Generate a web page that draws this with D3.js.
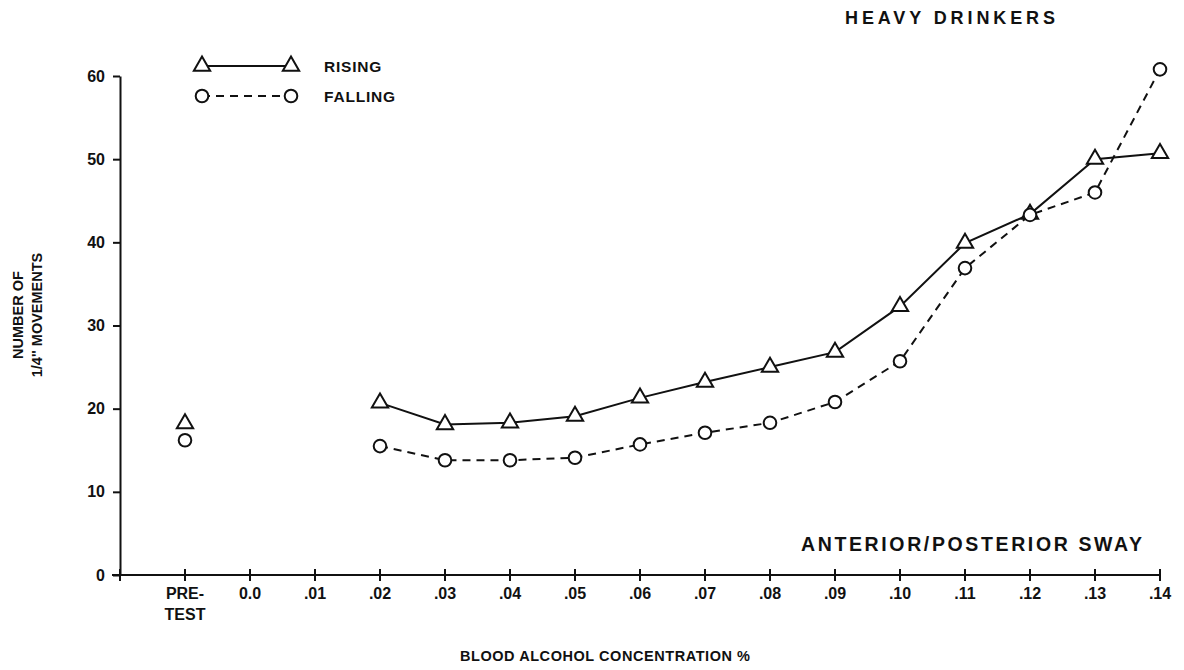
<!DOCTYPE html>
<html>
<head>
<meta charset="utf-8">
<script src="https://cdn.jsdelivr.net/npm/d3@7"></script>
<style>
  body { margin: 0; background: #fff; }
  svg { display: block; }
  text { font-family: "Liberation Sans", Arial, Helvetica, sans-serif; font-weight: bold; fill: #111; }
</style>
</head>
<body>
<svg id="chart" width="1184" height="670"></svg>
<script>
// categories along the x axis (PRE-TEST then blood alcohol levels)
var categories = ['PRE-TEST', '0.0', '.01', '.02', '.03', '.04', '.05', '.06', '.07', '.08', '.09', '.10', '.11', '.12', '.13', '.14'];
var rising  = [18.2, null, null, 20.7, 18.1, 18.3, 19.1, 21.3, 23.2, 25.0, 26.8, 32.3, 39.9, 43.4, 50.0, 50.7];
var falling = [16.2, null, null, 15.5, 13.8, 13.8, 14.1, 15.7, 17.1, 18.3, 20.8, 25.7, 36.9, 43.3, 46.0, 60.8];
var yTicks = [0, 10, 20, 30, 40, 50, 60];

var svg = d3.select('#chart');
var ink = '#111';

var x = d3.scalePoint().domain(categories).range([120, 1160]).padding(0.5).align(1);
var y = d3.scaleLinear().domain([0, 60]).range([575, 76]);

/** y axis */
var yAxis = svg.append('g').attr('transform', 'translate(120,0)')
	.call(d3.axisLeft(y).tickValues(yTicks).tickSize(7).tickSizeOuter(0).tickPadding(8));
yAxis.select('.domain').attr('stroke', ink).attr('stroke-width', 2);
yAxis.selectAll('.tick line').attr('stroke', ink).attr('stroke-width', 2);
yAxis.selectAll('.tick text').attr('font-size', 16).attr('font-family', null).attr('fill', ink);

/** x axis */
var xAxisG = svg.append('g').attr('transform', 'translate(0,575)');
xAxisG.append('line').attr('x1', 112).attr('x2', 1160).attr('stroke', ink).attr('stroke-width', 2);
var xTickPos = [120].concat(categories.map(function(c) { return x(c); }));
xAxisG.selectAll('line.tick').data(xTickPos).enter().append('line')
	.attr('class', 'tick')
	.attr('x1', function(d) { return d; }).attr('x2', function(d) { return d; })
	.attr('y1', -6).attr('y2', 6)
	.attr('stroke', ink).attr('stroke-width', 2);
var xLabels = xAxisG.selectAll('text.lbl').data(categories).enter().append('text')
	.attr('class', 'lbl')
	.attr('x', function(d) { return x(d); })
	.attr('y', 24)
	.attr('text-anchor', 'middle')
	.attr('font-size', 16);
xLabels.each(function(d) {
	var t = d3.select(this);
	if (d === 'PRE-TEST') {
		t.append('tspan').attr('x', x(d)).text('PRE-');
		t.append('tspan').attr('x', x(d)).attr('dy', 21).text('TEST');
	} else {
		t.text(d);
	}
});

/** axis titles */
svg.append('text').attr('x', 605).attr('y', 661).attr('text-anchor', 'middle')
	.attr('font-size', 14.5).attr('textLength', 290).attr('lengthAdjust', 'spacing')
	.text('BLOOD ALCOHOL CONCENTRATION %');
var yTitle = svg.append('text').attr('transform', 'translate(23,315) rotate(-90)')
	.attr('text-anchor', 'middle').attr('font-size', 14.5);
yTitle.append('tspan').attr('x', 0).attr('y', 0).text('NUMBER OF');
yTitle.append('tspan').attr('x', 0).attr('y', 19).text('1/4\'\' MOVEMENTS');

svg.append('text').attr('x', 845).attr('y', 24)
	.attr('font-size', 18).attr('textLength', 210).attr('lengthAdjust', 'spacing')
	.text('HEAVY DRINKERS');
svg.append('text').attr('x', 801).attr('y', 551)
	.attr('font-size', 19.5).attr('textLength', 341).attr('lengthAdjust', 'spacing')
	.text('ANTERIOR/POSTERIOR SWAY');

/** series */
var series = [
	{ name: 'RISING', values: rising, dash: null, symbol: d3.symbolTriangle, size: 115 },
	{ name: 'FALLING', values: falling, dash: '8,6', symbol: d3.symbolCircle, size: 125 }
];

var line = d3.line()
	.defined(function(d, i) { return d !== null && i > 0; })
	.x(function(d, i) { return x(categories[i]); })
	.y(function(d) { return y(d); });

series.forEach(function(s) {
	svg.append('path').datum(s.values)
		.attr('d', line)
		.attr('fill', 'none')
		.attr('stroke', ink)
		.attr('stroke-width', 2)
		.attr('stroke-dasharray', s.dash);
	var pts = s.values.map(function(v, i) { return { v: v, c: categories[i] }; })
		.filter(function(p) { return p.v !== null; });
	svg.selectAll(null).data(pts).enter().append('path')
		.attr('d', d3.symbol().type(s.symbol).size(s.size)())
		.attr('transform', function(p) { return 'translate(' + x(p.c) + ',' + y(p.v) + ')'; })
		.attr('fill', '#fff')
		.attr('stroke', ink)
		.attr('stroke-width', 2);
});

/** legend */
var legend = svg.append('g');
var legendRows = [{ s: series[0], y: 66 }, { s: series[1], y: 96 }];
legendRows.forEach(function(r) {
	var g = legend.append('g').attr('transform', 'translate(0,' + r.y + ')');
	g.append('line').attr('x1', 202).attr('x2', 291)
		.attr('stroke', ink).attr('stroke-width', 2).attr('stroke-dasharray', r.s.dash);
	[202, 291].forEach(function(px) {
		g.append('path')
			.attr('d', d3.symbol().type(r.s.symbol).size(r.s.size)())
			.attr('transform', 'translate(' + px + ',0)')
			.attr('fill', '#fff').attr('stroke', ink).attr('stroke-width', 2);
	});
	g.append('text').attr('x', 324).attr('y', 6).attr('font-size', 15.5)
		.attr('letter-spacing', 0.8).text(r.s.name);
});
</script>
</body>
</html>
